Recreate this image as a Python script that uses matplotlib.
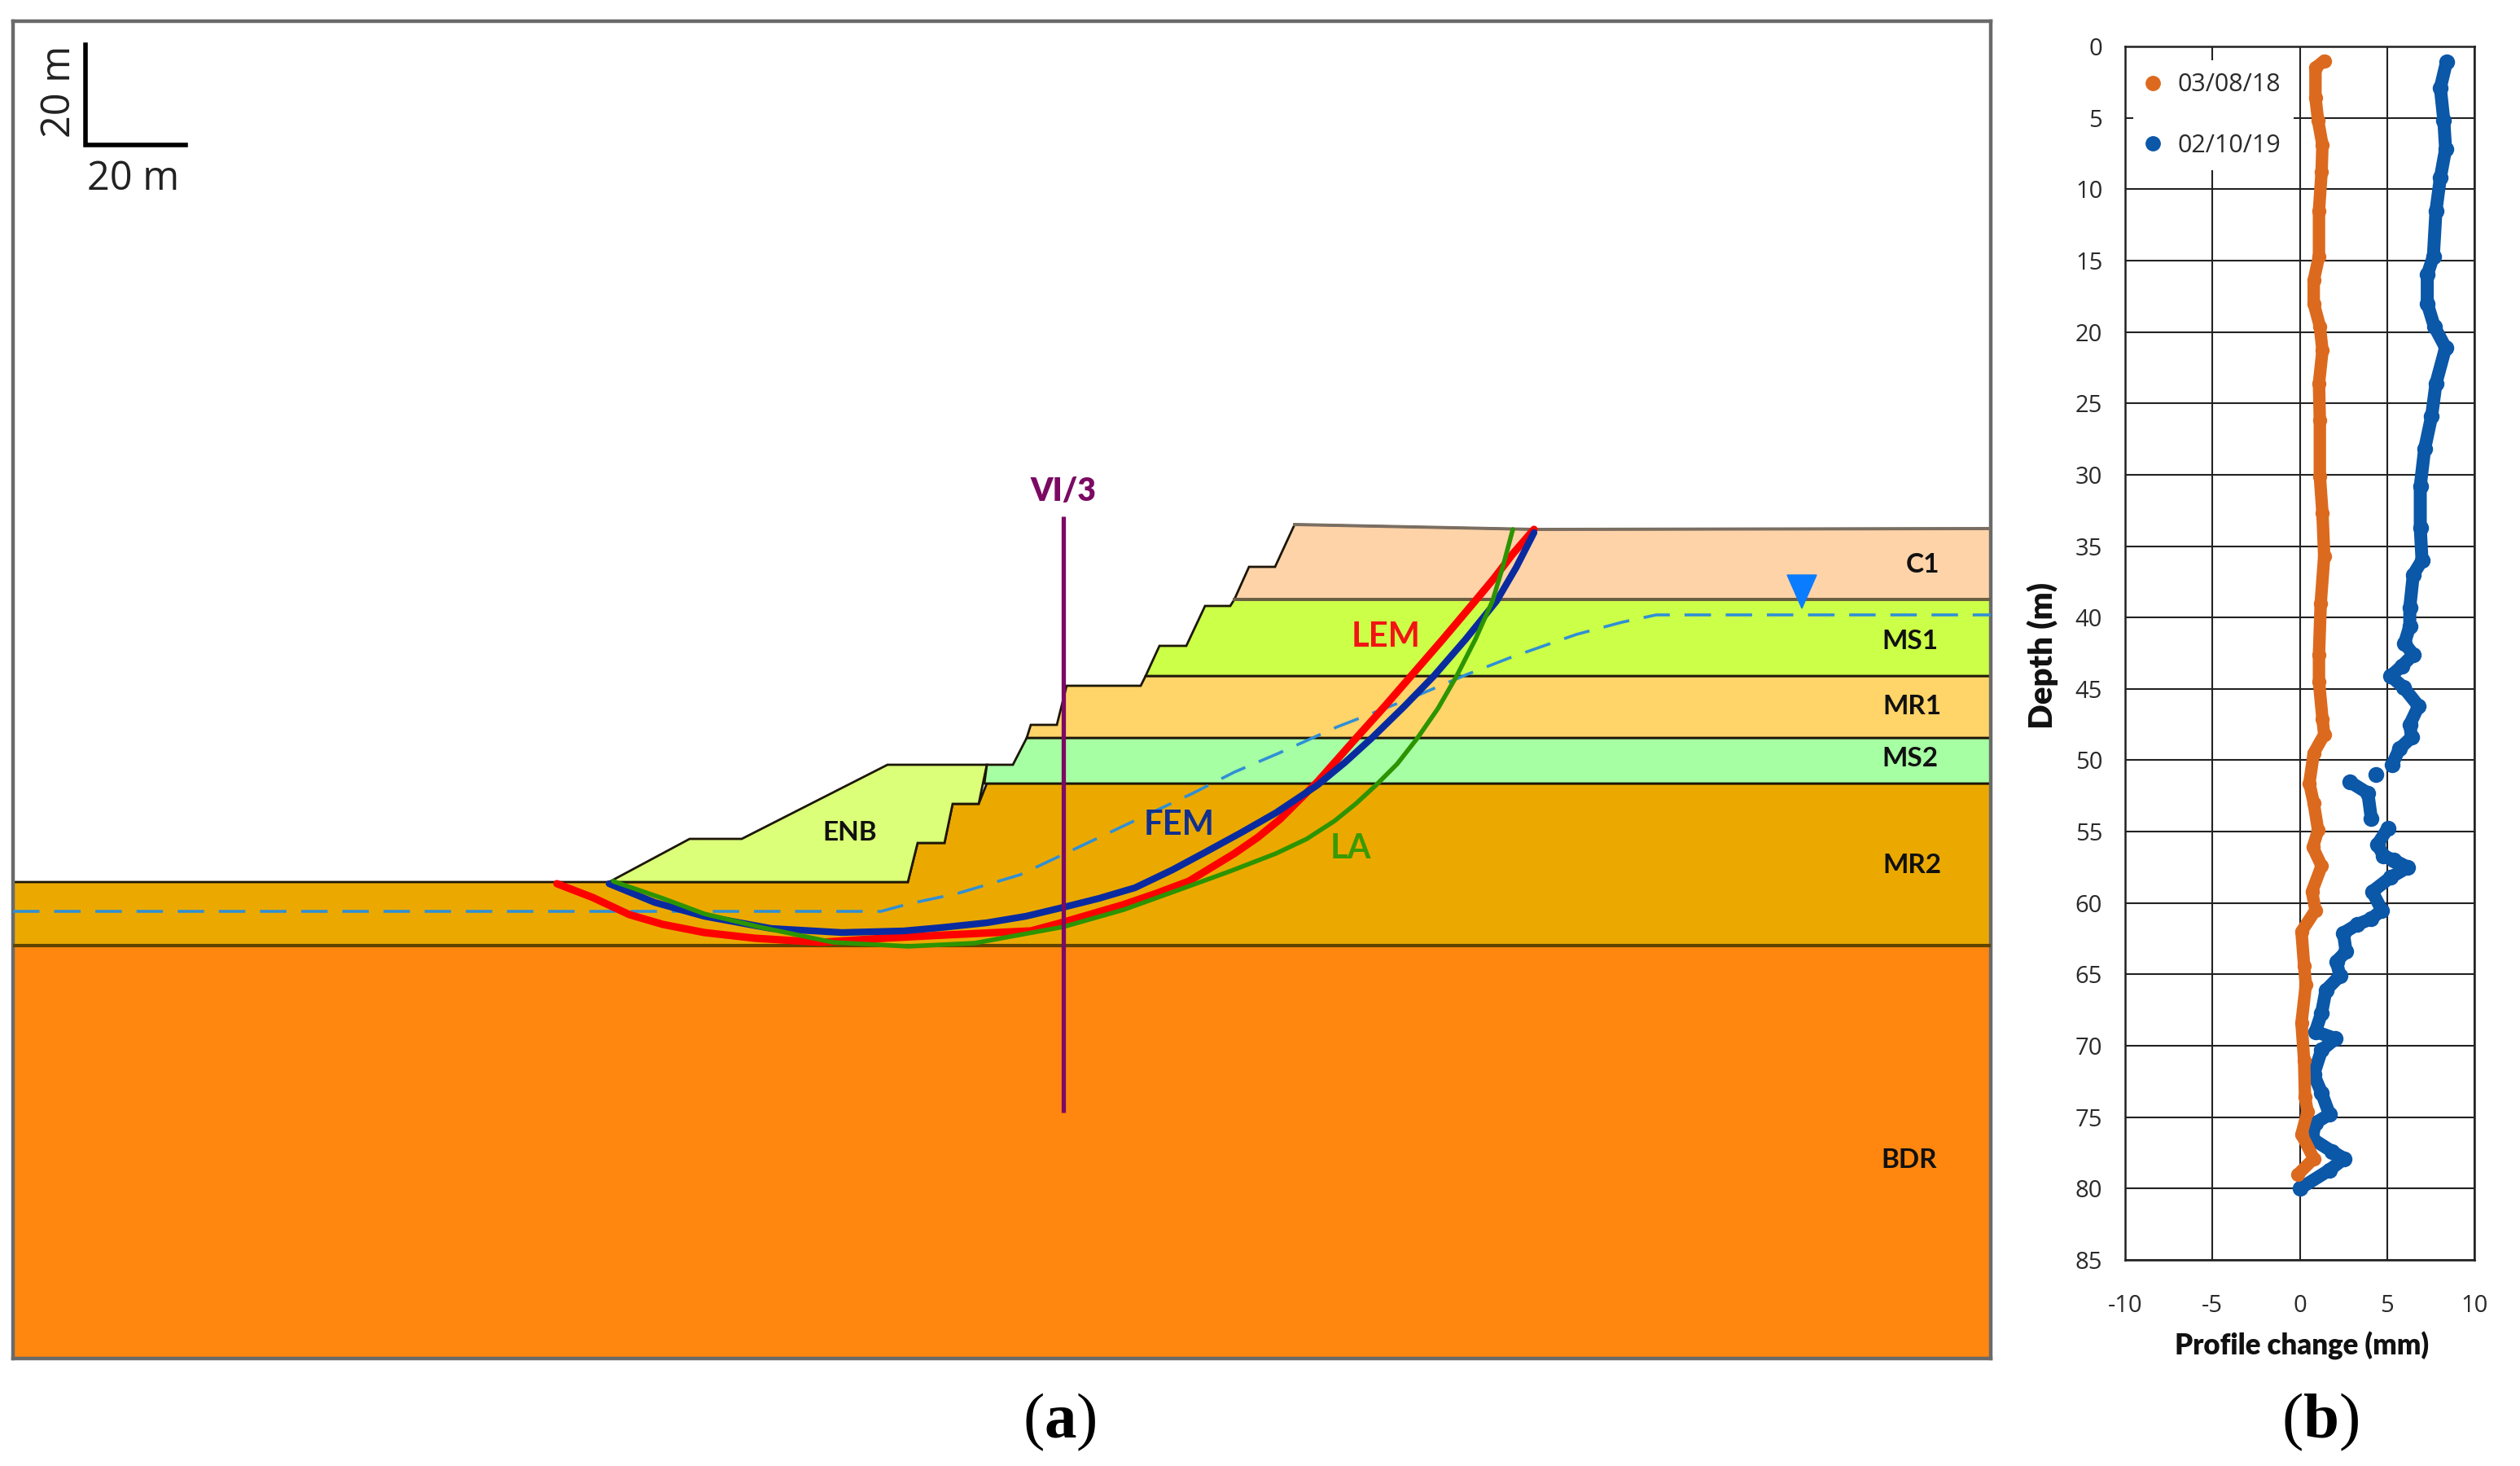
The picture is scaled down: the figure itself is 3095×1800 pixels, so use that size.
import numpy as np
import matplotlib
matplotlib.use('Agg')
import matplotlib.pyplot as plt
from matplotlib.lines import Line2D

plt.rcParams['font.family'] = ['Open Sans', 'DejaVu Sans']
plt.rcParams['mathtext.fontset'] = 'custom'
plt.rcParams['mathtext.rm'] = 'Liberation Serif'
plt.rcParams['mathtext.bf'] = 'Liberation Serif:bold'
plt.rcParams['axes.unicode_minus'] = False

W, H = 3095, 1800
DPI = 100

# %% (a) cross-section, coordinates (x to the right, y downwards)
left_x, right_x, top_y, bottom_y = 16, 2445, 26, 1668

bdr_x = [16, 2445, 2445, 16]
bdr_y = [1161, 1161, 1668, 1668]
mr2_x = [16, 1115, 1127, 1160, 1170, 1202, 1212, 2445, 2445, 16]
mr2_y = [1083, 1083, 1035, 1035, 987, 987, 962, 962, 1161, 1161]
enb_x = [748, 847, 911, 1090, 1212, 1202, 1170, 1160, 1127, 1115]
enb_y = [1083, 1030, 1030, 939, 939, 987, 987, 1035, 1035, 1083]
ms2_x = [1209, 1212, 1244, 1261, 2445, 2445]
ms2_y = [962, 939, 939, 906, 906, 962]
mr1_x = [1261, 1266, 1298, 1310, 1401, 1407, 2445, 2445]
mr1_y = [906, 890, 890, 842, 842, 830, 830, 906]
ms1_x = [1407, 1424, 1457, 1480, 1511, 1516, 2445, 2445]
ms1_y = [830, 793, 793, 744, 744, 736, 736, 830]
c1_x = [1516, 1534, 1566, 1590, 1884, 2445, 2445]
c1_y = [736, 696, 696, 644, 650, 649, 736]

layer_colors = {'BDR': '#FF870F', 'MR2': '#EBA900', 'ENB': '#DBFF78', 'MS2': '#A6FFA3',
                'MR1': '#FFD468', 'MS1': '#CCFF47', 'C1': '#FFD3A8'}

lem_x = [684, 728, 773, 814, 865, 927, 1008, 1085, 1161, 1266, 1307, 1379, 1420, 1460, 1516, 1545, 1572, 1618, 1641,
         1664, 1700, 1733, 1772, 1810, 1835, 1858, 1884]
lem_y = [1085, 1102, 1123, 1135, 1145, 1152, 1157, 1152, 1148, 1143, 1132, 1111, 1097, 1082, 1048, 1028, 1006, 960, 934,
         908, 868, 830, 785, 740, 710, 680, 650]
fem_x = [748, 804, 865, 947, 1034, 1110, 1155, 1212, 1260, 1306, 1350, 1394, 1440, 1481, 1525, 1567, 1618, 1652, 1685,
         1724, 1761, 1800, 1838, 1862, 1884]
fem_y = [1085, 1108, 1125, 1140, 1145, 1143, 1139, 1133, 1125, 1114, 1103, 1090, 1068, 1046, 1022, 998, 964, 936, 906,
         868, 830, 785, 738, 697, 654]
la_x = [753, 814, 865, 932, 1023, 1115, 1197, 1306, 1380, 1455, 1510, 1567, 1605, 1639, 1665, 1690, 1716, 1741, 1766,
        1789, 1812, 1833, 1846, 1858]
la_y = [1082, 1103, 1122, 1138, 1157, 1162, 1158, 1138, 1117, 1090, 1070, 1048, 1030, 1008, 987, 964, 938, 906, 870,
        830, 785, 738, 695, 650]

water_x = [16, 1082, 1115, 1176, 1253, 1304, 1361, 1465, 1516, 1570, 1641, 1731, 1802, 1856, 1936, 1992, 2034, 2445]
water_y = [1119, 1119, 1110, 1097, 1074, 1050, 1023, 974, 948, 925, 893, 858, 828, 807, 779, 764, 755, 755]
tri_x = [2195, 2231, 2213]
tri_y = [706, 706, 747]

# %% (b) inclinometer profile
depth_b_orange = [1.0, 1.5, 3.6, 5.2, 6.9, 8.8, 11.5, 14.7, 16.4, 18, 19.6, 21.3, 23.6, 26.2, 30.1, 32.7, 35.7,
                  39, 42.6, 44.5, 47.1, 48.2, 49.5, 51.6, 53, 54.9, 56.1, 57.4, 59.2, 60.5, 62, 64.4, 65.7,
                  68.4, 71, 73.6, 74.6, 76.2, 77.9, 79]
change_orange = [1.4, 0.9, 0.9, 1.05, 1.3, 1.25, 1.1, 1.1, 0.8, 0.8, 1.15, 1.3, 1.1, 1.15, 1.15, 1.3, 1.4,
                 1.2, 1.1, 1.1, 1.3, 1.4, 0.8, 0.55, 0.8, 1.05, 0.75, 1.25, 0.7, 0.9, 0.1, 0.25, 0.35,
                 0.1, 0.25, 0.3, 0.45, 0.1, 0.8, -0.1]
nan = float('nan')
depth_b_blue = [1.1, 2.9, 5.2, 7.2, 9.2, 11.5, 14.7, 16, 18, 19.6, 21.1, 23.6, 25.9, 28.2, 30.8, 33.7, 36, 37,
                39.3, 40.6, 41.8, 42.6, 43.4, 44.1, 44.9, 46.2, 47.5, 48.4, 49.2, 50.3, nan, 51, nan,
                51.5, 52.3, 54.1, nan, 54.75, 55.9, 56.7, 57, 57.5, 58.2, 59.2, 60.5, 61.1, 61.5, 62.1,
                63.4, 64.1, 65.1, 66.1, 67.7, 69, 69.5, 70.3, 72, 73.3, 74.8, 75.4, 76.5, 77.4, 77.9, 78.7, 80]
change_blue = [8.4, 8.05, 8.25, 8.35, 8.05, 7.8, 7.65, 7.3, 7.3, 7.7, 8.35, 7.8, 7.55, 7.15, 6.9, 6.9, 7, 6.5,
               6.3, 6.3, 6, 6.5, 5.85, 5.2, 5.95, 6.8, 6.3, 6.4, 5.7, 5.3, nan, 4.35, nan,
               2.85, 3.9, 4.1, nan, 5.05, 4.45, 4.8, 5.4, 6.2, 5.2, 4.15, 4.7, 4.1, 3.3, 2.5,
               2.65, 2.1, 2.3, 1.5, 1.25, 0.9, 2.05, 1.25, 0.8, 1.25, 1.7, 0.9, 0.7, 1.85, 2.55, 1.7, 0]
x_ticks_b = [-10, -5, 0, 5, 10]
y_ticks_b = list(range(0, 90, 5))
legend_labels = ['03/08/18', '02/10/19']


def px_axes(fig, x0, x1, y0, y1):
    # axes from pixel box of the target image
    return fig.add_axes([x0 / W, 1 - y1 / H, (x1 - x0) / W, (y1 - y0) / H])


fig = plt.figure(figsize=(W / DPI, H / DPI), dpi=DPI, facecolor='white')

# %% panel a
ax = px_axes(fig, left_x, right_x, top_y, bottom_y)
ax.set_xlim(left_x, right_x)
ax.set_ylim(bottom_y, top_y)
ax.set_xticks([])
ax.set_yticks([])
for s in ax.spines.values():
    s.set_color('#6a6a6a')
    s.set_linewidth(3.2)

layers = [('BDR', bdr_x, bdr_y), ('MR2', mr2_x, mr2_y), ('MS2', ms2_x, ms2_y), ('MR1', mr1_x, mr1_y),
          ('MS1', ms1_x, ms1_y), ('C1', c1_x, c1_y), ('ENB', enb_x, enb_y)]
for name, lx, ly in layers:
    ax.fill(lx, ly, facecolor=layer_colors[name], edgecolor='#1c1608', linewidth=2.0, zorder=2)
ax.plot(c1_x[3:6], c1_y[3:6], color='#7a6e62', lw=2.8, zorder=3)
ax.plot(c1_x[:1] + c1_x[-1:], c1_y[:1] + c1_y[-1:], color='#6a5f45', lw=2.8, zorder=3)
ax.plot(bdr_x[:2], bdr_y[:2], color='#5f4300', lw=3.0, zorder=3)

ax.plot(water_x, water_y, color='#2F8FD6', lw=2.6, dashes=(9, 5), zorder=4)
ax.plot(lem_x, lem_y, color='#FF0000', lw=6.6, solid_capstyle='round', zorder=5)
ax.plot(fem_x, fem_y, color='#0A2BA0', lw=6.0, solid_capstyle='round', zorder=6)
ax.plot(la_x, la_y, color='#2C9400', lw=4.0, solid_capstyle='round', zorder=7)
ax.fill(tri_x, tri_y, color='#0A7CFF', zorder=8)

ax.plot([1306, 1306], [634, 1366], color='#7B0A63', lw=3.8, solid_capstyle='butt', zorder=9)
ax.text(1306, 604, 'VI/3', color='#7B0A63', fontsize=28, family='Lato', weight='heavy', ha='center', va='center')

for label, lx, ly in [('C1', 2361, 694), ('MS1', 2346, 788), ('MR1', 2348, 868), ('MS2', 2346, 932),
                      ('MR2', 2348, 1063), ('BDR', 2345, 1425), ('ENB', 1044, 1023)]:
    ax.text(lx, ly, label, color='#111111', fontsize=24, family='Lato', weight='bold',
            ha='center', va='center', zorder=10)
for label, lx, ly, col in [('LEM', 1702, 782, '#F21414'), ('FEM', 1448, 1013, '#10308F'), ('LA', 1659, 1042, '#3A9A00')]:
    ax.text(lx, ly, label, color=col, fontsize=30, family='Lato', weight='bold',
            ha='center', va='center', zorder=10)

# scale bar
ax.plot([105, 105, 228], [55, 178, 178], color='black', lw=4.0, solid_joinstyle='miter', zorder=10)
ax.text(164, 220, '20 m', fontsize=35, color='#222222', ha='center', va='center')
ax.text(73, 112, '20 m', fontsize=35, color='#222222', rotation=90, ha='center', va='center')

# %% panel b
axb = px_axes(fig, 2610, 3039, 57, 1547)
axb.set_xlim(-10, 10)
axb.set_ylim(85, 0)
axb.set_xticks(x_ticks_b)
axb.set_yticks(y_ticks_b)
axb.grid(True, color='#222222', lw=1.5)
axb.set_axisbelow(True)
axb.tick_params(length=0, labelsize=21, labelcolor='#2a2a2a')
axb.tick_params(axis='x', pad=30)
axb.tick_params(axis='y', pad=20)
for s in axb.spines.values():
    s.set_color('#222222')
    s.set_linewidth(1.8)

orange = '#DC6A1E'
blue = '#0B57A8'
axb.plot(change_blue, depth_b_blue, '-o', color=blue, lw=11.5, ms=13, solid_capstyle='round', zorder=3)
axb.plot(change_orange, depth_b_orange, '-o', color=orange, lw=11, ms=11.5, solid_capstyle='round', zorder=4)

handles = [Line2D([], [], ls='', marker='o', ms=12.5, color=orange),
           Line2D([], [], ls='', marker='o', ms=12.5, color=blue)]
leg = axb.legend(handles, legend_labels, loc='upper left', bbox_to_anchor=(0.023, 0.9886), borderaxespad=0,
                 frameon=True, facecolor='white', edgecolor='none', framealpha=1, fontsize=22,
                 labelspacing=1.45, handletextpad=0.7, borderpad=0.5, handlelength=0.6)
for t in leg.get_texts():
    t.set_color('#2a2a2a')

axb.set_xlabel('Profile change (mm)', fontsize=25, family='Lato', weight='heavy', color='#111111')
axb.xaxis.set_label_coords(0.507, 1 - (1652 - 57) / 1490, transform=axb.transAxes)
axb.xaxis.label.set_va('center')
axb.set_ylabel('Depth (m)', fontsize=29, family='Lato', weight='heavy', color='#111111')
axb.yaxis.set_label_coords((2509 - 2610) / 429, 0.498, transform=axb.transAxes)
axb.yaxis.label.set_va('center')

# %% panel captions
fig.text(1301 / W, 1 - 1746 / H, r'($\mathbf{a}$)', fontsize=57, family='Liberation Serif', ha='center', va='center')
fig.text(2850 / W, 1 - 1746 / H, r'($\mathbf{b}$)', fontsize=57, family='Liberation Serif', ha='center', va='center')

fig.savefig('out.png', dpi=DPI)
